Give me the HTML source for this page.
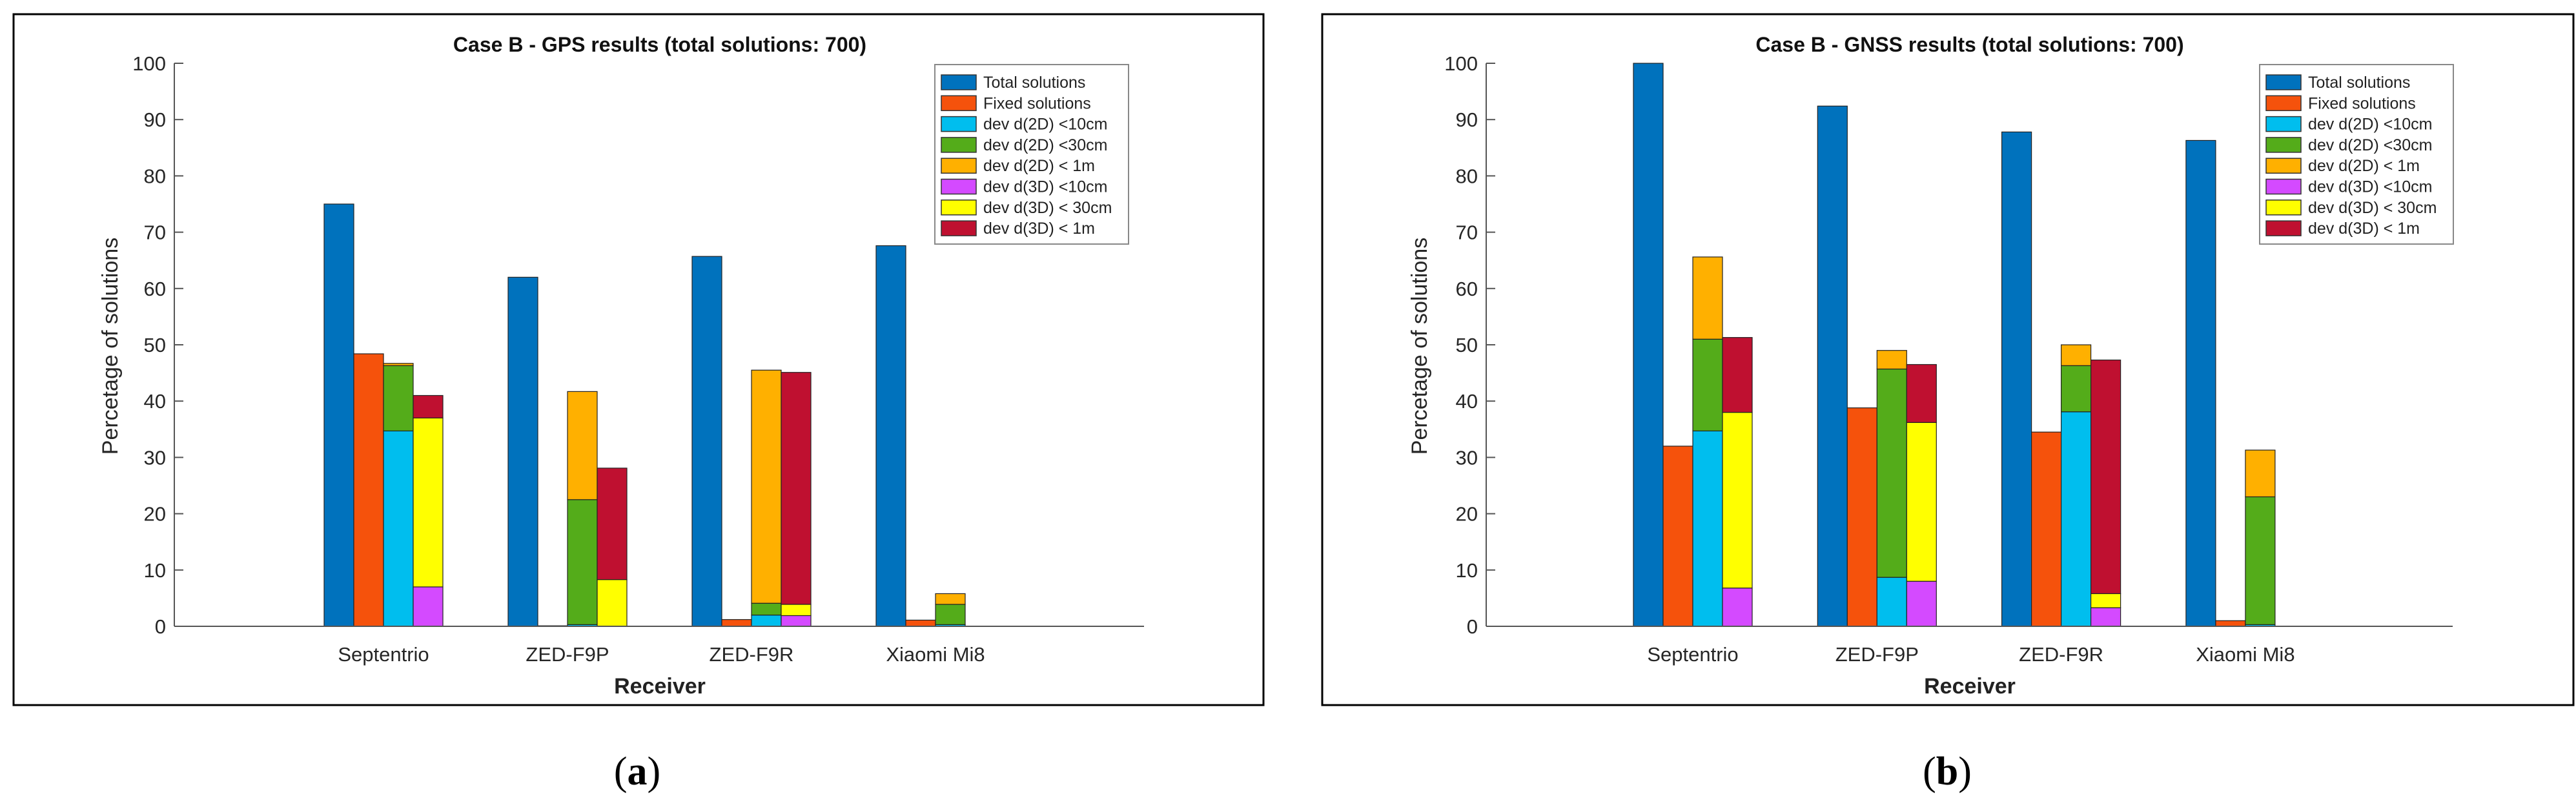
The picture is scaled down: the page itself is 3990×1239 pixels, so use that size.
<!DOCTYPE html>
<html><head><meta charset="utf-8"><style>
html,body{margin:0;padding:0;background:#fff;}
svg{display:block;font-family:"Liberation Sans",sans-serif;}
</style></head><body>
<svg id="root" width="3990" height="1239" viewBox="0 0 3990 1239" xmlns="http://www.w3.org/2000/svg"></svg>
<script>
const categories = ["Septentrio","ZED-F9P","ZED-F9R","Xiaomi Mi8"];
const yTicks = [0,10,20,30,40,50,60,70,80,90,100];
const legendLabels = ["Total solutions","Fixed solutions","dev d(2D) <10cm","dev d(2D) <30cm","dev d(2D) < 1m","dev d(3D) <10cm","dev d(3D) < 30cm","dev d(3D) < 1m"];
// Panel A (GPS)
const gpsTotal = [75, 62, 65.7, 67.6];
const gpsFixed = [48.4, 0.1, 1.2, 1.1];
const gps2D10 = [34.7, 0.3, 2.0, 0.3];
const gps2D30 = [46.3, 22.5, 4.1, 3.9];
const gps2D1m = [46.7, 41.7, 45.5, 5.8];
const gps3D10 = [7.0, 0, 1.9, 0];
const gps3D30 = [37.0, 8.3, 3.9, 0];
const gps3D1m = [41.0, 28.1, 45.1, 0];
// Panel B (GNSS)
const gnssTotal = [100, 92.4, 87.8, 86.3];
const gnssFixed = [32.0, 38.8, 34.5, 1.0];
const gnss2D10 = [34.7, 8.7, 38.1, 0.3];
const gnss2D30 = [51.0, 45.7, 46.3, 23.0];
const gnss2D1m = [65.6, 49.0, 50.0, 31.3];
const gnss3D10 = [6.8, 8.0, 3.3, 0];
const gnss3D30 = [38.0, 36.2, 5.8, 0];
const gnss3D1m = [51.3, 46.5, 47.3, 0];

const colors = ["#0072BD","#F5520C","#00BEEE","#54AC1A","#FFB000","#D44AFF","#FFFF00","#BF1030"];
const NS = "http://www.w3.org/2000/svg";
const root = document.getElementById('root');
function mk(tag, attrs, parent){const e=document.createElementNS(NS,tag);for(const k in attrs)e.setAttribute(k,attrs[k]);(parent||root).appendChild(e);return e;}

function panel(o){
  const g = mk('g',{});
  
  
  const fr = mk('rect',{x:o.fx,y:22,width:o.fw,height:1070,fill:'none',stroke:'#000','stroke-width':3},g);
  
  
  const y0=970, yTop=98;
  const ys = v => y0 - (y0-yTop)*v/100;
  const xs = i => o.c0 + i*o.step;
  const bw = 46;
  // axes
  const ya = mk('line',{x1:o.ax,y1:yTop,x2:o.ax,y2:y0,stroke:'#555','stroke-width':2},g);
  
  
  yTicks.forEach(t=>{
    const tk = mk('line',{x1:o.ax,y1:ys(t),x2:o.ax+14,y2:ys(t),stroke:'#555','stroke-width':2},g);
    
    
    const tl = mk('text',{x:o.ax-13,y:ys(t)+11,'font-size':31,'text-anchor':'end',fill:'#262626'},g);
    tl.textContent = t;
    
    
  });
  // bars
  function bar(x,v0,v1,col,name){
    if(v1<=v0) return;
    const r = mk('rect',{x:x,y:ys(v1),width:bw,height:ys(v0)-ys(v1),fill:col,stroke:'#222','stroke-width':1.2},g);
    
    
  }
  categories.forEach((c,i)=>{
    const cx = xs(i);
    bar(cx-2*bw,0,o.total[i],colors[0],'bar-total');
    bar(cx-bw,0,o.fixed[i],colors[1],'bar-fixed');
    bar(cx,0,o.d2a[i],colors[2],'bar-2d-10cm');
    bar(cx,o.d2a[i],o.d2b[i],colors[3],'bar-2d-30cm');
    bar(cx,o.d2b[i],o.d2c[i],colors[4],'bar-2d-1m');
    bar(cx+bw,0,o.d3a[i],colors[5],'bar-3d-10cm');
    bar(cx+bw,o.d3a[i],o.d3b[i],colors[6],'bar-3d-30cm');
    bar(cx+bw,o.d3b[i],o.d3c[i],colors[7],'bar-3d-1m');
    const cl = mk('text',{x:cx,y:1024,'font-size':31,'text-anchor':'middle',fill:'#262626'},g);
    cl.textContent = c;
    
    
  });
  const xa = mk('line',{x1:o.ax,y1:y0,x2:o.ax2,y2:y0,stroke:'#555','stroke-width':2},g);
  
  
  const t = mk('text',{x:o.tx,y:80,'font-size':32,'font-weight':'bold','text-anchor':'middle',fill:'#111'},g);
  t.textContent = o.title;
  
  
  const xl = mk('text',{x:o.tx,y:1074,'font-size':34,'font-weight':'bold','text-anchor':'middle',fill:'#222'},g);
  xl.textContent = 'Receiver';
  
  
  const yl = mk('text',{x:0,y:0,'font-size':34,'text-anchor':'middle',fill:'#262626',transform:`translate(${o.ylx},536) rotate(-90)`},g);
  yl.textContent = 'Percetage of solutions';
  
  
  // legend
  const lg = mk('g',{},g);
  
  
  mk('rect',{x:o.lx,y:100,width:300,height:278,fill:'#fff',stroke:'#888','stroke-width':2},lg);
  legendLabels.forEach((lab,k)=>{
    const yy = 127 + k*32.3;
    const sw = mk('rect',{x:o.lx+10,y:yy-11,width:54,height:23,fill:colors[k],stroke:'#333','stroke-width':1.5},lg);
    
    
    const lt = mk('text',{x:o.lx+75,y:yy+9,'font-size':25,fill:'#222'},lg);
    lt.textContent = lab;
    
    
  });
  const cap = mk('text',{x:o.capx,y:1215,'font-size':62,'text-anchor':'middle',fill:'#000','font-family':'Liberation Serif, serif'},g);
  cap.innerHTML = '(<tspan font-weight="bold">'+o.cap+'</tspan>)';
  
  
}
panel({name:'gps-chart',fx:21,fw:1936,ax:270,ax2:1772,c0:594,step:285,tx:1022,ylx:182,lx:1448,capx:987,title:'Case B - GPS results (total solutions: 700)',cap:'a',
  total:gpsTotal,fixed:gpsFixed,d2a:gps2D10,d2b:gps2D30,d2c:gps2D1m,d3a:gps3D10,d3b:gps3D30,d3c:gps3D1m});
panel({name:'gnss-chart',fx:2048,fw:1938,ax:2302,ax2:3799,c0:2622,step:285.3,tx:3051,ylx:2210,lx:3500,capx:3016,title:'Case B - GNSS results (total solutions: 700)',cap:'b',
  total:gnssTotal,fixed:gnssFixed,d2a:gnss2D10,d2b:gnss2D30,d2c:gnss2D1m,d3a:gnss3D10,d3b:gnss3D30,d3c:gnss3D1m});
</script>
</body></html>
